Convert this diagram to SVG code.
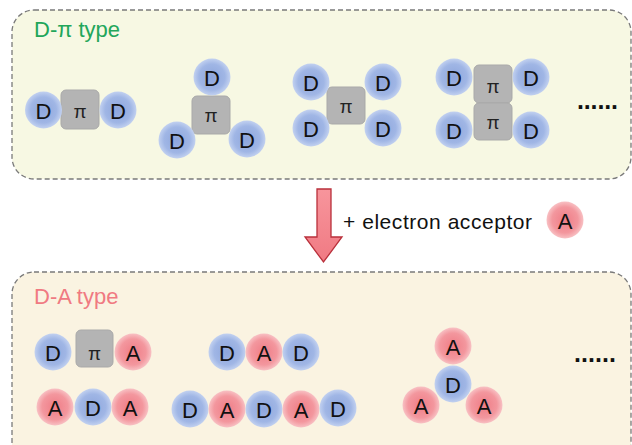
<svg xmlns="http://www.w3.org/2000/svg" width="632" height="445" viewBox="0 0 632 445">
<defs>
<radialGradient id="gb" cx="0.5" cy="0.5" r="0.5">
<stop offset="0" stop-color="#8ea6dc"/>
<stop offset="0.7" stop-color="#a0b6e5"/>
<stop offset="1" stop-color="#c2d1f0"/>
</radialGradient>
<radialGradient id="gr" cx="0.5" cy="0.5" r="0.5">
<stop offset="0" stop-color="#ef7c86"/>
<stop offset="0.7" stop-color="#f3979e"/>
<stop offset="1" stop-color="#f8c1c4"/>
</radialGradient>
<linearGradient id="ga" x1="0" y1="0" x2="0" y2="1">
<stop offset="0" stop-color="#f7959c"/>
<stop offset="1" stop-color="#f07a83"/>
</linearGradient>
</defs>
<style>
.panel{stroke:#7a7a7a;stroke-width:1.3;stroke-dasharray:5 3}
.b{fill:url(#gb)}
.r{fill:url(#gr)}
.sq{fill:#b4b4b4;stroke:#a9a9a9;stroke-width:1}
.t{font-family:"Liberation Sans",Arial,sans-serif;font-size:22px;fill:#111;text-anchor:middle;dominant-baseline:central}
.p{font-family:"Liberation Sans",Arial,sans-serif;font-size:19px;fill:#222;text-anchor:middle;dominant-baseline:central}
.title{font-family:"Liberation Sans",Arial,sans-serif;font-size:22px}
.dots{font-family:"Liberation Sans",Arial,sans-serif;font-size:25px;font-weight:bold;fill:#111}
</style>
<rect width="632" height="445" fill="#ffffff"/>
<rect class="panel" x="12" y="10" width="619" height="169" rx="22" fill="#f7f8e3"/>
<rect class="panel" x="12" y="272" width="619" height="200" rx="22" fill="#faf3e1"/>
<text class="title" x="34" y="37" fill="#22a65a">D-π type</text>
<text class="title" x="34" y="304" fill="#f07a82">D-A type</text>

<g id="connectors">
<path d="M317,189 H331 V237 H342 L323.5,262 L305,237 H317 Z" fill="url(#ga)" stroke="#b9303b" stroke-width="1.3" stroke-linejoin="miter"/>
</g>
<text x="343" y="229" font-family="Liberation Sans, Arial, sans-serif" font-size="21" fill="#111" textLength="189">+ electron acceptor</text>
<g id="acceptor-A"><circle class="r" cx="565" cy="220" r="18.5"/><text class="t" x="565" y="221">A</text></g>

<g id="dpi-1">
<rect class="sq" x="61" y="90" width="38" height="39" rx="5"/>
<circle class="b" cx="43.5" cy="110" r="18.5"/>
<circle class="b" cx="118" cy="110" r="18.5"/>
<text class="t" x="43.5" y="111">D</text>
<text class="p" x="80" y="111">π</text>
<text class="t" x="118" y="111">D</text>
</g>

<g id="dpi-2">
<rect class="sq" x="192" y="96" width="38" height="38" rx="5"/>
<circle class="b" cx="212" cy="77" r="18.5"/>
<circle class="b" cx="177" cy="140" r="18.5"/>
<circle class="b" cx="247" cy="139" r="18.5"/>
<text class="p" x="211" y="115">π</text>
<text class="t" x="212" y="78">D</text>
<text class="t" x="177" y="141">D</text>
<text class="t" x="247" y="140">D</text>
</g>

<g id="dpi-3">
<rect class="sq" x="327" y="87" width="38" height="37" rx="5"/>
<circle class="b" cx="311" cy="82" r="18.5"/>
<circle class="b" cx="383" cy="82" r="18.5"/>
<circle class="b" cx="311" cy="128" r="18.5"/>
<circle class="b" cx="383" cy="128" r="18.5"/>
<text class="p" x="346" y="106">π</text>
<text class="t" x="311" y="83">D</text>
<text class="t" x="383" y="83">D</text>
<text class="t" x="311" y="129">D</text>
<text class="t" x="383" y="129">D</text>
</g>

<g id="dpi-4">
<rect class="sq" x="474" y="65" width="38" height="38" rx="5"/>
<rect class="sq" x="474" y="103" width="38" height="37" rx="5"/>
<circle class="b" cx="454" cy="77" r="18.5"/>
<circle class="b" cx="531" cy="77" r="18.5"/>
<circle class="b" cx="454" cy="130" r="18.5"/>
<circle class="b" cx="531" cy="130" r="18.5"/>
<text class="p" x="493" y="86">π</text>
<text class="p" x="493" y="122">π</text>
<text class="t" x="454" y="78">D</text>
<text class="t" x="531" y="78">D</text>
<text class="t" x="454" y="131">D</text>
<text class="t" x="531" y="131">D</text>
</g>

<text class="dots" x="577" y="109" textLength="41">......</text>

<g id="da-1">
<rect class="sq" x="76" y="330" width="37" height="37" rx="5"/>
<circle class="b" cx="53" cy="352" r="18.5"/>
<circle class="r" cx="133" cy="352" r="18.5"/>
<text class="t" x="53" y="353">D</text>
<text class="p" x="94.5" y="353">π</text>
<text class="t" x="133" y="353">A</text>
</g>

<g id="da-2">
<circle class="b" cx="227" cy="352" r="18.5"/>
<circle class="r" cx="264" cy="352" r="18.5"/>
<circle class="b" cx="301" cy="352" r="18.5"/>
<text class="t" x="227" y="353">D</text>
<text class="t" x="264" y="353">A</text>
<text class="t" x="301" y="353">D</text>
</g>

<g id="da-3">
<circle class="r" cx="55" cy="407" r="18.5"/>
<circle class="b" cx="93" cy="407" r="18.5"/>
<circle class="r" cx="130" cy="407" r="18.5"/>
<text class="t" x="55" y="408">A</text>
<text class="t" x="93" y="408">D</text>
<text class="t" x="130" y="408">A</text>
</g>

<g id="da-4">
<circle class="b" cx="190" cy="409" r="18.5"/>
<circle class="r" cx="227" cy="409" r="18.5"/>
<circle class="b" cx="264" cy="409" r="18.5"/>
<circle class="r" cx="301" cy="409" r="18.5"/>
<circle class="b" cx="338" cy="408" r="18.5"/>
<text class="t" x="190" y="410">D</text>
<text class="t" x="227" y="410">A</text>
<text class="t" x="264" y="410">D</text>
<text class="t" x="301" y="410">A</text>
<text class="t" x="338" y="409">D</text>
</g>

<g id="da-5">
<circle class="r" cx="453" cy="346" r="18.5"/>
<circle class="r" cx="421" cy="405" r="18.5"/>
<circle class="r" cx="484" cy="405" r="18.5"/>
<circle class="b" cx="453" cy="384" r="18.5"/>
<text class="t" x="453" y="347">A</text>
<text class="t" x="453" y="385">D</text>
<text class="t" x="421" y="406">A</text>
<text class="t" x="484" y="406">A</text>
</g>

<text class="dots" x="574" y="362" textLength="42">......</text>
</svg>
